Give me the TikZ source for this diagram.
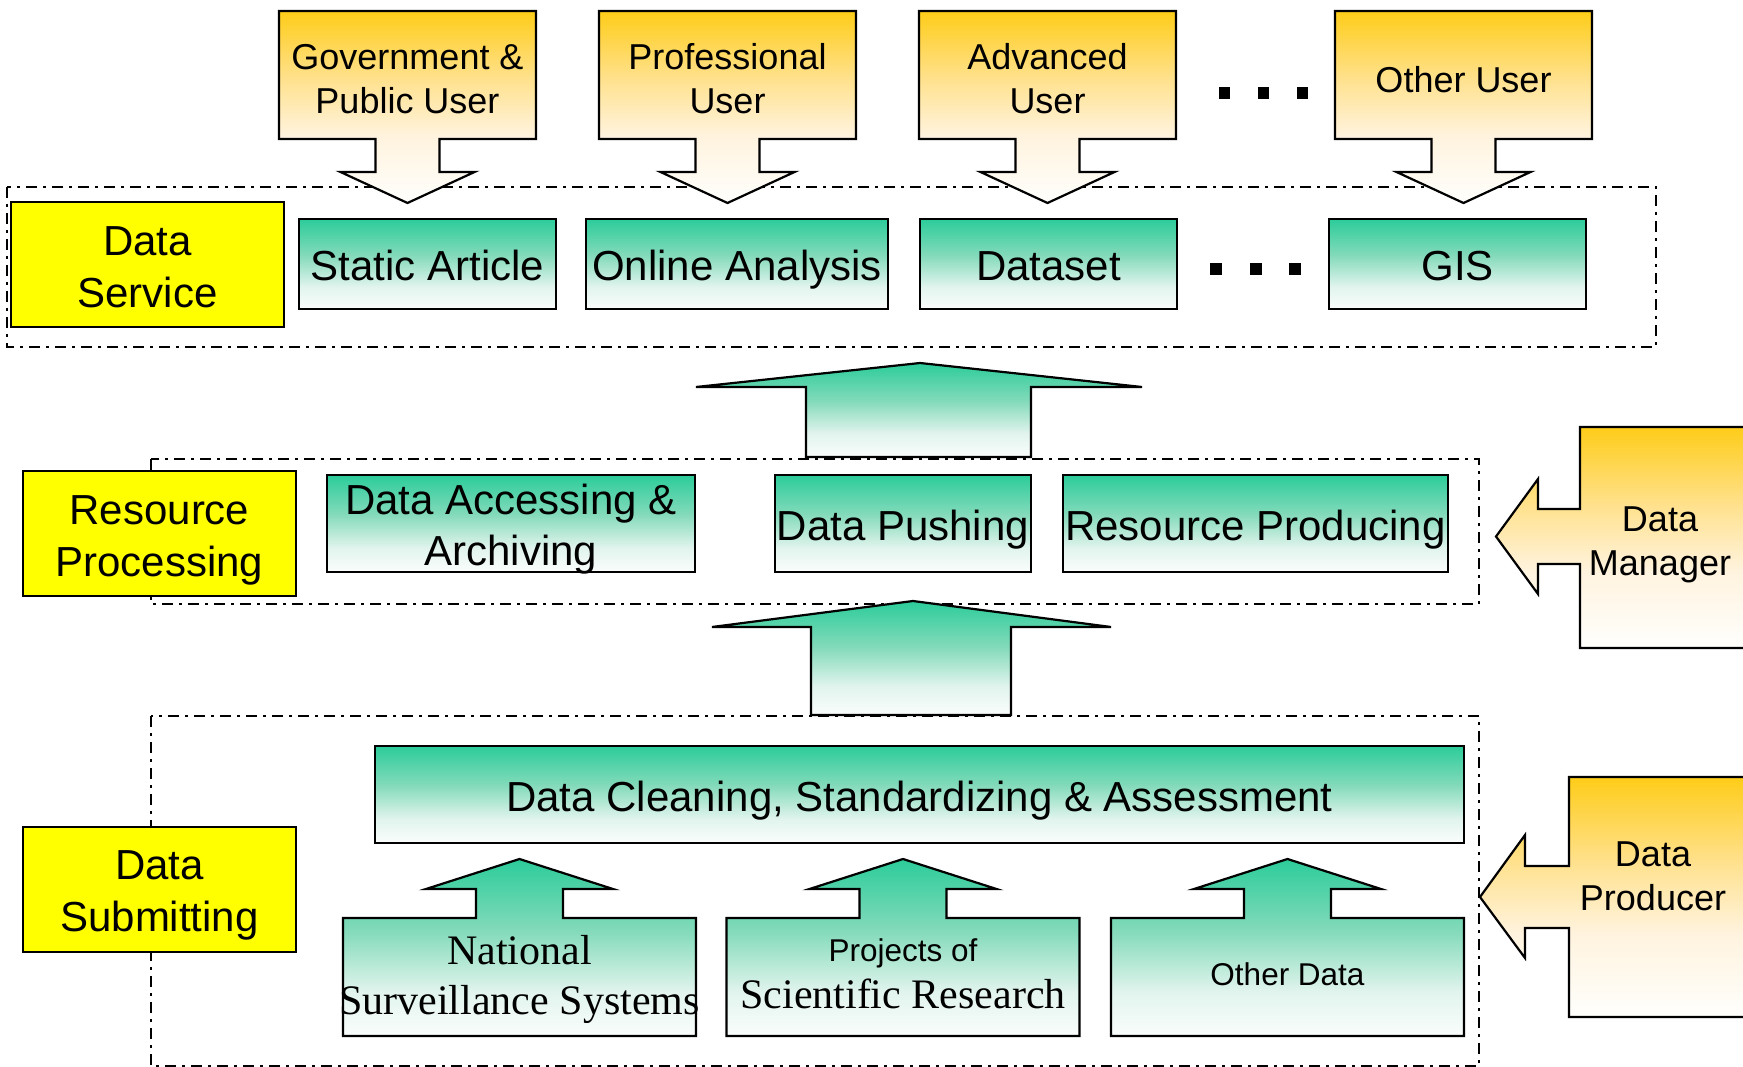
\documentclass[tikz,border=0pt]{standalone}
\usepackage{fontspec}
\setmainfont{Liberation Sans}
\newfontfamily\serifo{Liberation Serif}
\definecolor{gtop}{RGB}{44,204,154}
\definecolor{gmid}{RGB}{130,218,186}
\definecolor{glow}{RGB}{225,244,237}
\definecolor{gbot}{RGB}{250,253,252}
\definecolor{otop}{RGB}{254,204,24}
\definecolor{omid}{RGB}{255,225,140}
\definecolor{olow}{RGB}{255,243,222}
\definecolor{obot}{RGB}{255,255,253}
\definecolor{ylw}{RGB}{255,255,0}
\pgfdeclareverticalshading{greenfade}{100bp}{color(0bp)=(gbot); color(25bp)=(gbot); color(37.5bp)=(glow); color(55bp)=(gmid); color(75bp)=(gtop); color(100bp)=(gtop)}
\pgfdeclareverticalshading{goldfade}{100bp}{color(0bp)=(obot); color(25bp)=(obot); color(42.5bp)=(olow); color(57.5bp)=(omid); color(75bp)=(otop); color(100bp)=(otop)}
\newcommand\myBig{\fontsize{42}{50}\selectfont}
\newcommand\myBigY{\fontsize{42}{52}\selectfont}
\newcommand\myBigA{\fontsize{42}{51}\selectfont}
\newcommand\myMid{\fontsize{36}{44}\selectfont}
\newcommand\mySmall{\fontsize{31.5}{38}\selectfont}
\newcommand\serifBig{\serifo\fontsize{42}{50}\selectfont}
\newcommand\downcallout[1]{%
  \shadedraw[callout, shading=goldfade] (#1-128.5,11) -- (#1+128.5,11) -- (#1+128.5,139) -- (#1+32,139) -- (#1+32,172) -- (#1+67,172) -- (#1,203) -- (#1-67,172) -- (#1-32,172) -- (#1-32,139) -- (#1-128.5,139) -- cycle;}
\newcommand\upcallout[1]{%
  \shadedraw[callout, shading=greenfade] (#1-176.5,1036) -- (#1-176.5,918) -- (#1-43.5,918) -- (#1-43.5,889) -- (#1-93.5,889) -- (#1,859) -- (#1+93.5,889) -- (#1+43.5,889) -- (#1+43.5,918) -- (#1+176.5,918) -- (#1+176.5,1036) -- cycle;}
\tikzset{
  gbox/.style={draw=black, line width=2.2pt, shade, shading=greenfade, inner sep=0pt, align=center, font=\myBig, text height=35pt, text depth=2pt},
  ybox/.style={draw=black, line width=2.2pt, fill=ylw, inner sep=0pt, align=center, font=\myBigY},
  callout/.style={draw=black, line width=2.2pt, line join=miter},
  lbl/.style={inner sep=0pt, align=center},
  dbox/.style={draw=black, line width=2pt, dash pattern=on 11pt off 6pt on 3pt off 6pt}
}
\begin{document}
\begin{tikzpicture}[x=1pt,y=-1pt]
\useasboundingbox (0,0) rectangle (1743,1067);
\clip (0,0) rectangle (1743,1067);
\fill[white] (0,0) rectangle (1743,1067);
% dashed layer frames
\draw[dbox] (7,187) rectangle (1656,347);
\draw[dbox] (151,459) rectangle (1479,604);
\draw[dbox] (151,716) rectangle (1479,1066);
% user callouts
\downcallout{407.5}
\downcallout{727.5}
\downcallout{1047.5}
\downcallout{1463.5}
\node[lbl, font=\myMid] (gov) at (407.5,79) {Government \&\\Public User};
\node[lbl, font=\myMid] (pro) at (727.5,79) {Professional\\User};
\node[lbl, font=\myMid] (adv) at (1047.5,79) {Advanced\\User};
\node[lbl, font=\myMid] (oth) at (1463.5,80) {Other User};
\foreach \x in {1219,1258,1297} \fill (\x,87) rectangle ++(11,12);
% data service layer
\node[ybox, minimum width=273, minimum height=125] (ds) at (147.5,264.5) {};
\node[lbl, font=\myBigY] (dst) at (147.5,267) {Data\\Service};
\node[gbox, minimum width=257, minimum height=90] (sa) at (427.5,264) {Static Article};
\node[gbox, minimum width=302, minimum height=90] (oa) at (737,264) {Online Analysis};
\node[gbox, minimum width=257, minimum height=90] (dset) at (1048.5,264) {Dataset};
\node[gbox, minimum width=257, minimum height=90] (gis) at (1457.5,264) {GIS};
\foreach \x in {1210,1250,1289} \fill (\x,263) rectangle ++(12,12);
% big arrows
\shadedraw[callout, shading=greenfade] (806,457) -- (806,387) -- (696,387) -- (920,363) -- (1142,387) -- (1031,387) -- (1031,457) -- cycle;
\shadedraw[callout, shading=greenfade] (811,715) -- (811,627) -- (712,627) -- (913,601) -- (1111,627) -- (1011,627) -- (1011,715) -- cycle;
% resource processing layer
\node[ybox, minimum width=273, minimum height=125] (rp) at (159.5,533.5) {};
\node[lbl, font=\myBigY] (rpt) at (159.5,540) {Resource\\Processing};
\node[gbox, minimum width=368, minimum height=97] (daa) at (511,523.5) {};
\node[lbl, font=\myBigA] (daat) at (511,529.5) {Data Accessing \&\\Archiving};
\node[gbox, minimum width=256, minimum height=97] (dp) at (903,523.5) {Data Pushing};
\node[gbox, minimum width=385, minimum height=97] (rpr) at (1255.5,523.5) {Resource Producing};
% data manager
\shadedraw[callout, shading=goldfade] (1760,427) -- (1580,427) -- (1580,509) -- (1538,509) -- (1538,479) -- (1496,536.5) -- (1538,594) -- (1538,564) -- (1580,564) -- (1580,648) -- (1760,648) -- cycle;
\node[lbl, font=\myMid] (mgr) at (1660,545) {Data\\Manager};
% data submitting layer
\node[ybox, minimum width=273, minimum height=125] (dsub) at (159.5,889.5) {};
\node[lbl, font=\myBigY] (dsubt) at (159.5,895.5) {Data\\Submitting};
\node[gbox, minimum width=1089, minimum height=97] (dc) at (919.5,794.5) {Data Cleaning, Standardizing \& Assessment};
\upcallout{519.5}
\upcallout{903}
\upcallout{1287.5}
\node[lbl, font=\myBig] (nat) at (519.5,979.5) {{\serifBig National}\\{\serifBig Surveillance Systems}};
\node[lbl, font=\myBig] (proj) at (903,974) {{\mySmall Projects of}\\[-2.5pt]{\serifBig Scientific Research}};
\node[lbl, font=\mySmall] (othd) at (1287.5,974) {Other Data};
% data producer
\shadedraw[callout, shading=goldfade] (1760,777) -- (1569,777) -- (1569,866) -- (1525,866) -- (1525,835) -- (1480,897) -- (1525,958) -- (1525,928) -- (1569,928) -- (1569,1017) -- (1760,1017) -- cycle;
\node[lbl, font=\myMid] (prod) at (1653,876) {Data\\Producer};
\end{tikzpicture}
\end{document}
